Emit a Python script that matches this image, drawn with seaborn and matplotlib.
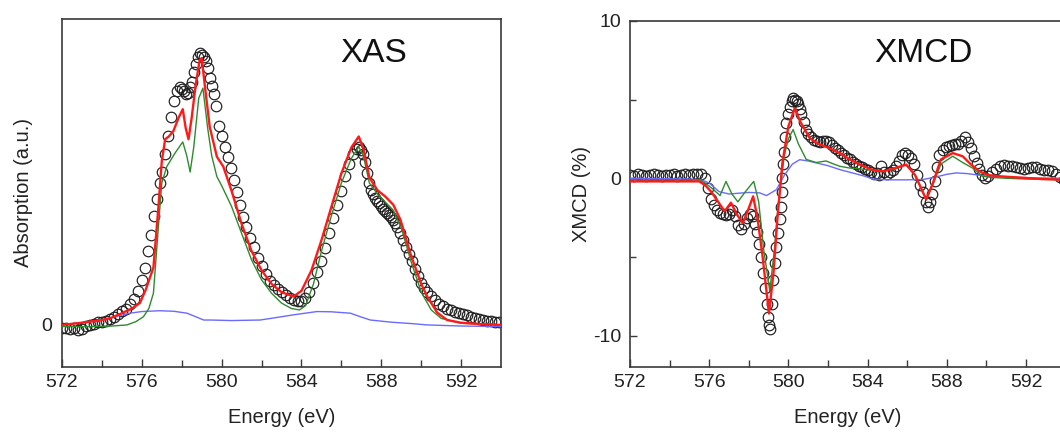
import numpy as np
import pandas as pd
import matplotlib
matplotlib.use("Agg")
import matplotlib.pyplot as plt
import seaborn as sns

# ---------------- XAS panel data ----------------
xas_data_e = [572.0, 572.2, 572.4, 572.6, 572.8, 573.0, 573.2, 573.4, 573.6, 573.8, 574.0, 574.2, 574.4, 574.6,
              574.8, 575.0, 575.2, 575.4, 575.6, 575.8, 576.0, 576.15, 576.3, 576.45, 576.6, 576.75, 576.9,
              577.0, 577.15, 577.3, 577.45, 577.6, 577.75, 577.9, 578.0, 578.1, 578.2, 578.3, 578.4, 578.5,
              578.6, 578.7, 578.8, 578.9, 579.0, 579.1, 579.2, 579.3, 579.4, 579.5, 579.6, 579.7, 579.85,
              580.0, 580.15, 580.3, 580.45, 580.6, 580.75, 580.9, 581.05, 581.2, 581.4, 581.6, 581.8, 582.0,
              582.2, 582.4, 582.6, 582.8, 583.0, 583.2, 583.4, 583.6, 583.8, 584.0, 584.2, 584.4, 584.6,
              584.8, 585.0, 585.2, 585.4, 585.6, 585.8, 586.0, 586.2, 586.4, 586.6, 586.8, 586.9, 587.0,
              587.1, 587.2, 587.3, 587.4, 587.5, 587.6, 587.7, 587.8, 587.9, 588.0, 588.1, 588.2, 588.3,
              588.4, 588.5, 588.6, 588.7, 588.8, 588.95, 589.1, 589.25, 589.4, 589.55, 589.7, 589.85, 590.0,
              590.15, 590.3, 590.5, 590.7, 590.9, 591.1, 591.3, 591.5, 591.7, 591.9, 592.1, 592.3, 592.5,
              592.7, 592.9, 593.1, 593.3, 593.5, 593.7, 593.9]
xas_data_v = [-0.01, -0.01, -0.015, -0.01, -0.02, -0.015, -0.005, 0.0, 0.005, 0.01, 0.012, 0.015, 0.022, 0.03,
              0.04, 0.05, 0.06, 0.075, 0.095, 0.125, 0.165, 0.21, 0.27, 0.33, 0.40, 0.46, 0.52,
              0.56, 0.625, 0.69, 0.76, 0.82, 0.855, 0.87, 0.865, 0.855, 0.845, 0.85, 0.87, 0.89,
              0.925, 0.955, 0.98, 0.995, 0.99, 0.98, 0.965, 0.94, 0.905, 0.875, 0.845, 0.80, 0.73,
              0.69, 0.65, 0.615, 0.575, 0.53, 0.485, 0.44, 0.395, 0.36, 0.32, 0.285, 0.245, 0.215,
              0.185, 0.16, 0.145, 0.13, 0.12, 0.108, 0.098, 0.09, 0.086, 0.088, 0.10, 0.12, 0.155,
              0.195, 0.235, 0.28, 0.335, 0.39, 0.44, 0.49, 0.545, 0.59, 0.625, 0.645, 0.65, 0.64,
              0.625, 0.595, 0.555, 0.52, 0.495, 0.48, 0.465, 0.455, 0.445, 0.435, 0.425, 0.418, 0.41,
              0.402, 0.395, 0.385, 0.375, 0.36, 0.335, 0.31, 0.285, 0.26, 0.235, 0.205, 0.18, 0.155,
              0.135, 0.12, 0.105, 0.09, 0.078, 0.068, 0.06, 0.053, 0.048, 0.044, 0.04, 0.035, 0.03,
              0.026, 0.022, 0.019, 0.016, 0.013, 0.011, 0.009]

xas_red_e = [572.0, 573.0, 574.0, 574.4, 575.0, 575.5, 575.9, 576.2, 576.58, 576.83, 577.0, 577.17, 577.35,
             577.58, 577.85, 578.05, 578.2, 578.34, 578.5, 578.7, 578.9, 579.0, 579.15, 579.4, 579.76,
             580.08, 580.5, 581.0, 581.5, 582.0, 582.5, 583.0, 583.6, 584.0, 584.5, 585.0, 585.5, 586.0,
             586.5, 586.87, 587.1, 587.4, 587.8, 588.2, 588.6, 588.96, 589.46, 590.0, 590.3, 590.8, 591.3,
             592.0, 593.0, 594.0]
xas_red_v = [0.0, 0.008, 0.018, 0.024, 0.043, 0.06, 0.08, 0.13, 0.21, 0.43, 0.60, 0.68, 0.69,
             0.71, 0.76, 0.79, 0.72, 0.68, 0.76, 0.88, 0.97, 0.977, 0.88, 0.726, 0.616,
             0.58, 0.49, 0.37, 0.27, 0.20, 0.15, 0.12, 0.104, 0.125, 0.20, 0.31, 0.433, 0.555,
             0.65, 0.69, 0.645, 0.54, 0.494, 0.47, 0.44, 0.385, 0.26, 0.15, 0.104, 0.045, 0.018,
             0.008, 0.003, 0.0]

xas_green_e = [572.0, 573.57, 574.5, 575.25, 575.7, 576.08, 576.35, 576.58, 576.83, 577.0, 577.25, 577.67,
               578.05, 578.25, 578.42, 578.6, 578.85, 579.06, 579.3, 579.5, 579.76, 580.0, 580.5, 581.0,
               581.5, 582.0, 582.5, 583.0, 583.5, 583.9, 584.2, 584.6, 585.0, 585.5, 586.0, 586.5, 586.87,
               587.1, 587.4, 587.8, 588.2, 588.6, 589.0, 589.5, 590.0, 590.5, 591.0, 592.0, 594.0]
xas_green_v = [-0.006, -0.006, -0.004, 0.0, 0.012, 0.03, 0.06, 0.116, 0.36, 0.52, 0.58, 0.63,
               0.67, 0.62, 0.56, 0.65, 0.83, 0.867, 0.72, 0.62, 0.543, 0.51, 0.433, 0.335,
               0.238, 0.165, 0.116, 0.08, 0.06, 0.055, 0.07, 0.15, 0.27, 0.40, 0.52, 0.61, 0.652,
               0.62, 0.52, 0.48, 0.45, 0.42, 0.355, 0.23, 0.12, 0.055, 0.024, 0.006, 0.0]

xas_blue_e = [572.0, 574.0, 575.4, 576.0, 576.9, 577.6, 578.26, 578.7, 579.1, 579.43, 580.5, 581.93, 583.0,
              583.6, 584.78, 585.5, 586.45, 586.95, 587.45, 588.5, 589.5, 590.3, 592.0, 594.0]
xas_blue_v = [0.0, 0.018, 0.043, 0.049, 0.052, 0.05, 0.043, 0.03, 0.018, 0.018, 0.016, 0.018, 0.03,
              0.037, 0.049, 0.048, 0.043, 0.03, 0.018, 0.01, 0.005, 0.0, -0.004, -0.006]

# ---------------- XMCD panel data ----------------
xmcd_data_e = [572.0, 572.2, 572.4, 572.6, 572.8, 573.0, 573.2, 573.4, 573.6, 573.8, 574.0, 574.2, 574.4,
               574.6, 574.8, 575.0, 575.2, 575.4, 575.6, 575.8, 575.95, 576.1, 576.25, 576.4, 576.55, 576.7,
               576.85, 577.0, 577.15, 577.3, 577.45, 577.6, 577.75, 577.9, 578.05, 578.2, 578.3, 578.4,
               578.5, 578.6, 578.7, 578.8, 578.9, 578.97, 579.03, 579.08, 579.15, 579.23, 579.32, 579.4,
               579.48, 579.56, 579.62, 579.67, 579.7, 579.73, 579.78, 579.83, 579.9, 579.98, 580.07, 580.16,
               580.24, 580.33, 580.42, 580.5, 580.58, 580.66, 580.78, 580.9, 581.0, 581.15, 581.3, 581.45,
               581.6, 581.75, 581.9, 582.05, 582.2, 582.35, 582.5, 582.65, 582.8, 582.95, 583.1, 583.25,
               583.4, 583.55, 583.7, 583.85, 584.0, 584.15, 584.3, 584.45, 584.6, 584.7, 584.85, 585.0,
               585.15, 585.3, 585.45, 585.6, 585.75, 585.9, 586.05, 586.2, 586.35, 586.5, 586.65, 586.8,
               586.95, 587.05, 587.15, 587.25, 587.38, 587.5, 587.63, 587.8, 587.95, 588.1, 588.25, 588.4,
               588.55, 588.7, 588.9, 589.05, 589.2, 589.35, 589.5, 589.65, 589.8, 589.95, 590.1, 590.3,
               590.5, 590.7, 590.9, 591.1, 591.3, 591.5, 591.7, 591.9, 592.1, 592.3, 592.5, 592.7, 592.9,
               593.1, 593.3, 593.5, 593.7, 593.9]
xmcd_data_v = [0.2, 0.15, 0.25, 0.2, 0.15, 0.2, 0.25, 0.2, 0.15, 0.2, 0.2, 0.25, 0.15,
               0.2, 0.25, 0.2, 0.25, 0.3, 0.3, 0.0, -0.6, -1.35, -1.7, -2.0, -2.2, -2.3,
               -2.35, -2.3, -2.0, -2.4, -3.0, -3.2, -2.9, -2.5, -2.3, -2.4, -2.9, -3.4,
               -4.2, -5.0, -6.0, -7.0, -8.0, -8.8, -9.3, -9.6, -8.0, -6.5, -5.4, -4.4,
               -3.5, -2.6, -1.8, -0.9, 0.0, 0.9, 1.7, 2.6, 3.5, 4.1, 4.5, 4.9,
               5.1, 5.0, 4.9, 4.7, 4.4, 4.1, 3.6, 3.1, 2.8, 2.6, 2.45, 2.35,
               2.3, 2.35, 2.4, 2.3, 2.1, 1.95, 1.8, 1.6, 1.45, 1.3, 1.2, 1.05,
               0.9, 0.8, 0.7, 0.6, 0.5, 0.4, 0.3, 0.35, 0.2, 0.8, 0.4, 0.3,
               0.4, 0.55, 0.8, 1.1, 1.5, 1.6, 1.5, 1.3, 0.9, 0.2, -0.4, -0.9,
               -1.5, -1.8, -1.5, -1.0, -0.2, 0.7, 1.5, 1.8, 2.0, 2.05, 2.1, 2.15,
               2.2, 2.4, 2.6, 2.3, 1.9, 1.4, 1.0, 0.6, 0.2, 0.0, 0.15, 0.4,
               0.6, 0.75, 0.85, 0.8, 0.75, 0.7, 0.65, 0.6, 0.65, 0.7, 0.7, 0.6, 0.55,
               0.5, 0.45, 0.3, 0.05, -0.1]

xmcd_red_e = [572.0, 575.0, 575.5, 575.8, 576.1, 576.4, 576.78, 577.1, 577.4, 577.7, 578.0, 578.22, 578.45,
              578.7, 579.02, 579.25, 579.45, 579.7, 580.0, 580.32, 580.6, 581.08, 581.5, 582.0, 582.6,
              583.1, 583.6, 584.2, 584.78, 585.4, 585.95, 586.4, 586.96, 587.3, 587.7, 588.3, 588.8,
              589.2, 589.65, 590.1, 590.66, 591.2, 592.0, 592.8, 593.66, 594.0]
xmcd_red_v = [-0.2, -0.2, -0.2, -0.45, -0.85, -1.4, -2.1, -1.55, -2.3, -2.85, -1.9, -1.15, -2.6,
              -5.0, -8.6, -6.0, -2.5, 1.0, 3.3, 4.45, 3.6, 2.55, 2.2, 1.95, 1.6,
              1.2, 0.87, 0.55, 0.44, 0.65, 0.87, 0.2, -1.35, -0.3, 1.2, 1.6, 1.4,
              0.9, 0.44, 0.2, 0.13, 0.08, 0.02, -0.05, -0.08, -0.1]

xmcd_green_e = [572.0, 575.5, 575.8, 576.2, 576.55, 576.85, 577.15, 577.45, 577.8, 578.25, 578.5, 578.75,
                579.06, 579.3, 579.5, 579.8, 580.0, 580.24, 580.5, 580.9, 581.4, 581.9, 582.3, 582.6,
                583.1, 583.6, 584.2, 584.8, 585.4, 585.95, 586.4, 586.96, 587.3, 587.7, 588.3, 588.8,
                589.3, 589.8, 590.3, 591.0, 592.0, 594.0]
xmcd_green_v = [-0.1, -0.1, -0.3, -0.7, -1.1, -0.2, -1.0, -1.5, -0.9, -0.2, -1.5, -4.5,
                -7.15, -4.5, -1.5, 1.5, 2.5, 3.1, 2.2, 1.2, 1.0, 1.1, 0.9, 0.76,
                0.65, 0.6, 0.5, 0.45, 0.6, 0.85, 0.2, -1.35, -0.4, 0.9, 1.4, 1.0,
                0.65, 0.13, 0.05, 0.0, -0.05, -0.1]

xmcd_blue_e = [572.0, 575.0, 575.6, 576.0, 576.5, 577.0, 577.5, 578.0, 578.55, 578.9, 579.4, 579.8, 580.2,
               580.57, 581.0, 581.5, 582.0, 582.6, 583.2, 583.8, 584.27, 585.0, 586.0, 586.8, 587.5,
               588.0, 588.47, 589.0, 589.5, 590.2, 591.0, 592.6, 594.0]
xmcd_blue_v = [0.0, -0.05, -0.1, -0.3, -0.85, -1.0, -0.95, -0.9, -0.93, -1.1, -0.72, 0.2, 0.9,
               1.18, 1.1, 0.95, 0.8, 0.55, 0.35, 0.15, -0.05, -0.1, -0.1, -0.08, 0.1,
               0.25, 0.34, 0.3, 0.22, 0.13, 0.07, 0.02, 0.0]

x_major = [572, 576, 580, 584, 588, 592]
x_minor = [574, 578, 582, 586, 590]
xmcd_yticks = [-10, 0, 10]
xmcd_yminor = [-5, 5]

# ---------------- styling ----------------
sns.set_style("ticks")
plt.rcParams["font.family"] = ["Liberation Sans", "DejaVu Sans"]
plt.rcParams["axes.unicode_minus"] = False
TXT = "#222222"
SPINE = "#3a3a3a"
RED = "#ff1a1a"
GREEN = "#2f8a2f"
BLUE = "#6a6aff"

fig = plt.figure(figsize=(10.6, 4.32), dpi=100)
ax1 = fig.add_axes([0.0585, 0.1505, 0.4142, 0.806])
ax2 = fig.add_axes([0.5943, 0.1505, 0.411, 0.8009])


def draw(ax, de, dv, re, rv, ge, gv, be, bv):
    sns.lineplot(x=de, y=dv, ax=ax, estimator=None, sort=False, linestyle="none",
                 marker="o", markersize=7.6, markerfacecolor="none",
                 markeredgecolor="#1e1e1e", markeredgewidth=0.85, zorder=2)
    sns.lineplot(x=be, y=bv, ax=ax, estimator=None, sort=False, color=BLUE, linewidth=1.0, zorder=3)
    sns.lineplot(x=ge, y=gv, ax=ax, estimator=None, sort=False, color=GREEN, linewidth=1.0, zorder=4)
    sns.lineplot(x=re, y=rv, ax=ax, estimator=None, sort=False, color=RED, linewidth=1.7, zorder=5)


draw(ax1, xas_data_e, xas_data_v, xas_red_e, xas_red_v, xas_green_e, xas_green_v, xas_blue_e, xas_blue_v)
draw(ax2, xmcd_data_e, xmcd_data_v, xmcd_red_e, xmcd_red_v, xmcd_green_e, xmcd_green_v, xmcd_blue_e, xmcd_blue_v)

for ax in (ax1, ax2):
    ax.set_xlim(572, 594)
    ax.set_xticks(x_major)
    ax.set_xticks(x_minor, minor=True)
    ax.tick_params(axis="both", which="both", direction="in", colors=SPINE, labelcolor=TXT,
                   labelsize=14, width=1.0)
    ax.tick_params(axis="x", which="major", length=6, pad=5)
    ax.tick_params(axis="x", which="minor", length=5)
    for s in ax.spines.values():
        s.set_color(SPINE)
        s.set_linewidth(1.2)
    ax.set_xlabel("Energy (eV)", fontsize=14.5, color=TXT, labelpad=12)

ax1.set_ylim(-0.154, 1.121)
ax1.set_yticks([0])
ax1.set_yticklabels(["0"])
ax1.tick_params(axis="y", which="major", length=0, pad=7)
ax1.set_ylabel("Absorption (a.u.)", fontsize=14.5, color=TXT, labelpad=6)
ax1.text(0.71, 0.90, "XAS", transform=ax1.transAxes, fontsize=24, ha="center", va="center", color="#111111")

ax2.set_ylim(-12, 10)
ax2.set_yticks(xmcd_yticks)
ax2.set_yticks(xmcd_yminor, minor=True)
ax2.tick_params(axis="y", which="major", length=5, pad=6)
ax2.tick_params(axis="y", which="minor", length=4)
ax2.set_ylabel("XMCD (%)", fontsize=14.5, color=TXT, labelpad=2)
ax2.text(0.674, 0.905, "XMCD", transform=ax2.transAxes, fontsize=24, ha="center", va="center", color="#111111")

fig.savefig("out.png", dpi=100)
